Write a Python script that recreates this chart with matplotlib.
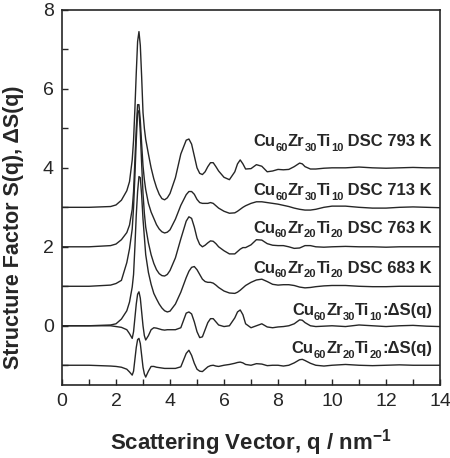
import matplotlib
matplotlib.use("Agg")
import matplotlib.pyplot as plt
from matplotlib.ticker import MultipleLocator

plt.rcParams['font.family'] = ['Liberation Sans', 'DejaVu Sans']
plt.rcParams['mathtext.fontset'] = 'custom'
plt.rcParams['mathtext.rm'] = 'Liberation Sans:bold'
plt.rcParams['mathtext.bf'] = 'Liberation Sans:bold'

# Scattering vector grid (nm^-1)
q = [0.0, 1.0, 1.8, 2.0, 2.2, 2.4, 2.5, 2.6, 2.65, 2.7, 2.75, 2.8, 2.85, 2.9, 2.95,
     3.0, 3.05, 3.1, 3.2, 3.3, 3.4, 3.5, 3.6, 3.7, 3.8, 3.9, 4.0, 4.2, 4.4, 4.6,
     4.7, 4.8, 4.9, 5.0, 5.1, 5.2, 5.3, 5.4, 5.5, 5.6, 5.7, 5.8, 6.0, 6.2, 6.4,
     6.5, 6.6, 6.7, 6.8, 7.0, 7.2, 7.4, 7.6, 7.8, 8.0, 8.2, 8.4, 8.6, 8.8, 8.9,
     9.0, 9.2, 9.4, 9.7, 10.0, 10.5, 11.0, 11.5, 12.0, 12.5, 13.0, 13.5, 14.0]

s_3010_793 = [0.0, 0.0, 0.02, 0.06, 0.18, 0.42, 0.65, 1.2, 1.7, 2.5, 3.4, 4.2, 4.45, 4.1, 3.3,
              2.4, 2.0, 1.72, 1.35, 1.0, 0.72, 0.5, 0.33, 0.22, 0.19, 0.24, 0.35, 0.75, 1.35, 1.7,
              1.73, 1.6, 1.3, 1.0, 0.86, 0.83, 0.9, 1.03, 1.13, 1.13, 1.03, 0.92, 0.76, 0.7, 0.9,
              1.1, 1.2, 1.1, 0.97, 0.98, 1.08, 1.04, 0.9, 0.92, 0.96, 0.95, 0.96, 1.03, 1.12, 1.1,
              1.03, 0.97, 0.97, 0.99, 1.0, 1.0, 1.02, 1.0, 0.99, 1.0, 1.01, 1.0, 1.0]

s_3010_713 = [0.0, 0.0, 0.03, 0.07, 0.18, 0.36, 0.55, 0.95, 1.4, 2.2, 3.0, 3.6, 3.6, 3.2, 2.6,
              2.05, 1.7, 1.45, 1.1, 0.88, 0.72, 0.56, 0.45, 0.38, 0.35, 0.37, 0.43, 0.7, 1.05, 1.32,
              1.4, 1.4, 1.33, 1.2, 1.12, 1.1, 1.1, 1.1, 1.12, 1.1, 1.04, 0.98, 0.9, 0.85, 0.86,
              0.9, 0.95, 1.0, 1.04, 1.1, 1.14, 1.14, 1.12, 1.1, 1.08, 1.05, 1.02, 0.98, 0.95, 0.94,
              0.93, 0.93, 0.95, 1.0, 1.03, 1.03, 1.0, 0.98, 0.98, 1.0, 1.01, 1.0, 0.99]

s_2020_763 = [0.0, 0.0, 0.03, 0.07, 0.15, 0.6, 0.95, 1.45, 2.0, 2.8, 3.7, 4.4, 4.45, 3.9, 3.1,
              2.35, 1.85, 1.5, 1.1, 0.8, 0.58, 0.42, 0.32, 0.27, 0.26, 0.3, 0.4, 0.72, 1.2, 1.65,
              1.76, 1.72, 1.5, 1.22, 1.06, 1.0, 1.04, 1.1, 1.15, 1.14, 1.08, 1.0, 0.9, 0.82, 0.82,
              0.88, 0.94, 0.98, 0.98, 1.05, 1.18, 1.17, 1.08, 1.04, 1.03, 1.03, 1.0, 0.96, 0.97, 1.0,
              1.03, 1.03, 1.0, 0.99, 1.0, 1.01, 1.0, 1.0, 0.99, 1.0, 1.0, 1.0, 1.0]

s_2020_683 = [0.0, 0.0, 0.02, 0.05, 0.17, 0.38, 0.6, 0.98, 1.3, 2.0, 2.8, 3.4, 3.78, 3.75, 3.3,
              2.7, 2.25, 1.8, 1.35, 1.05, 0.82, 0.68, 0.55, 0.45, 0.38, 0.35, 0.37, 0.55, 0.85, 1.22,
              1.38, 1.48, 1.5, 1.42, 1.3, 1.18, 1.12, 1.1, 1.1, 1.08, 1.03, 0.97, 0.88, 0.83, 0.82,
              0.85, 0.9, 0.96, 1.02, 1.1, 1.16, 1.18, 1.12, 1.05, 1.03, 1.04, 1.04, 1.02, 0.98, 0.97,
              0.96, 0.97, 0.99, 1.01, 1.02, 1.02, 1.0, 0.99, 0.99, 1.0, 1.0, 1.0, 1.0]

ds_3010 = [0.0, 0.0, 0.0, -0.02, -0.04, -0.1, -0.2, -0.32, -0.15, 0.2, 0.55, 0.8, 0.86, 0.7, 0.35,
           0.0, -0.25, -0.36, -0.25, -0.1, -0.05, -0.06, -0.08, -0.1, -0.11, -0.1, -0.1, -0.1, -0.05, 0.32,
           0.35, 0.3, 0.1, -0.15, -0.3, -0.28, -0.1, 0.08, 0.18, 0.18, 0.1, 0.02, -0.02, 0.0, 0.2,
           0.35, 0.4, 0.28, 0.05, -0.05, 0.0, 0.05, -0.03, -0.05, -0.03, -0.02, 0.0, 0.05, 0.15, 0.14,
           0.08, 0.0, -0.02, -0.01, 0.0, -0.02, 0.02, 0.0, -0.02, 0.0, 0.01, -0.01, -0.02]

ds_2020 = [0.0, 0.0, -0.02, -0.03, -0.05, -0.1, -0.17, -0.25, -0.15, 0.15, 0.45, 0.65, 0.68, 0.55, 0.25,
           -0.05, -0.22, -0.3, -0.15, -0.03, -0.03, -0.05, -0.06, -0.07, -0.08, -0.08, -0.08, -0.08, -0.04, 0.3,
           0.38, 0.25, 0.05, -0.1, -0.15, -0.16, -0.1, -0.04, -0.01, 0.0, -0.02, -0.03, 0.0, 0.02, 0.05,
           0.07, 0.08, 0.06, 0.02, 0.0, 0.04, 0.03, -0.01, 0.0, 0.0, -0.02, 0.0, 0.06, 0.14, 0.15,
           0.12, 0.05, 0.0, -0.02, 0.0, 0.02, 0.0, -0.01, 0.0, 0.01, 0.0, 0.0, 0.0]

curves = [s_3010_793, s_3010_713, s_2020_763, s_2020_683, ds_3010, ds_2020]
offsets = [3, 2, 1, 0, 0, -1]
# label pieces: (text, is_subscript)
labels = [
    [('Cu', 0), ('60', 1), ('Zr', 0), ('30', 1), ('Ti', 0), ('10', 1), (' DSC 793 K', 0)],
    [('Cu', 0), ('60', 1), ('Zr', 0), ('30', 1), ('Ti', 0), ('10', 1), (' DSC 713 K', 0)],
    [('Cu', 0), ('60', 1), ('Zr', 0), ('20', 1), ('Ti', 0), ('20', 1), (' DSC 763 K', 0)],
    [('Cu', 0), ('60', 1), ('Zr', 0), ('20', 1), ('Ti', 0), ('20', 1), (' DSC 683 K', 0)],
    [('Cu', 0), ('60', 1), ('Zr', 0), ('30', 1), ('Ti', 0), ('10', 1), (':\u0394S(q)', 0)],
    [('Cu', 0), ('60', 1), ('Zr', 0), ('20', 1), ('Ti', 0), ('20', 1), (':\u0394S(q)', 0)],
]
label_y = [4.55, 3.31, 2.35, 1.34, 0.27, -0.7]

W, H = 450, 458
fig = plt.figure(figsize=(4.5, 4.58), dpi=100)
ax = fig.add_axes([0.1378, 0.1594, 0.84, 0.819])

col = '#262626'
for s, off in zip(curves, offsets):
    ax.plot(q, [v + off for v in s], color=col, lw=1.0)

ax.set_xlim(0, 14)
ax.set_ylim(-1.5, 8)
ax.xaxis.set_major_locator(MultipleLocator(2))
ax.xaxis.set_minor_locator(MultipleLocator(1))
ax.yaxis.set_major_locator(MultipleLocator(2))
ax.yaxis.set_minor_locator(MultipleLocator(1))
ax.tick_params(which='both', direction='in', length=4, width=1.0, color=col,
               labelsize=14, labelcolor=col, pad=6)
for sp in ax.spines.values():
    sp.set_linewidth(1.2)
    sp.set_color(col)

ax.set_xlabel(r'Scattering Vector, q / nm$^{\mathbf{-1}}$', fontsize=16,
              fontweight='bold', color=col, labelpad=12)
ax.set_ylabel('Structure Factor S(q), \u0394S(q)', fontsize=15.5,
              fontweight='bold', color=col)
ax.yaxis.set_label_coords(-0.10, 0.42)

# composed labels with small, lowered subscripts
renderer = fig.canvas.get_renderer()
main_fs, sub_fs, sub_drop = 12, 8, 4.5  # drop in pixels
for parts, ly in zip(labels, label_y):
    xr, yb = ax.transData.transform((13.7, ly))
    texts = []
    total = 0.0
    for txt, sub in parts:
        t = fig.text(0, 0, txt, fontsize=sub_fs if sub else main_fs,
                     fontweight='bold', color=col, ha='left', va='baseline')
        w = t.get_window_extent(renderer).width
        texts.append((t, sub, w))
        total += w
    x = xr - total
    for t, sub, w in texts:
        t.set_position((x / W, (yb - (sub_drop if sub else 0)) / H))
        x += w

fig.savefig('out.png', dpi=100)
